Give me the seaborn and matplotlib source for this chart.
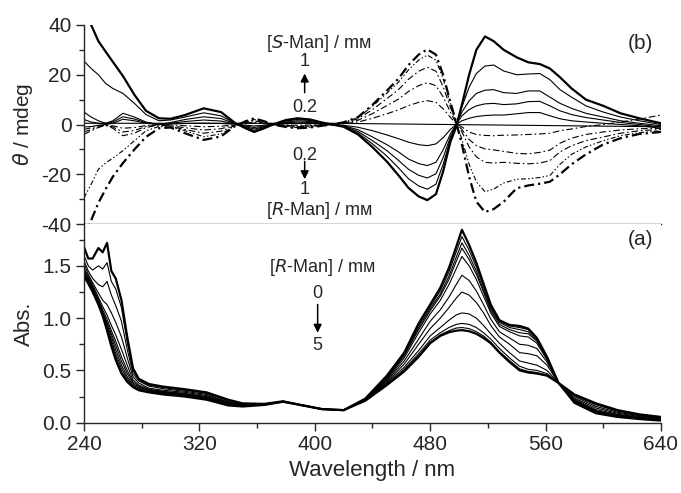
import numpy as np
import seaborn as sns
import matplotlib.pyplot as plt
from matplotlib.ticker import MultipleLocator

# ===================== CD data (panel b) =====================
wl_cd = [240, 245, 250, 255, 260, 267, 275, 283, 292, 300, 310, 323, 335, 345, 352,
         358, 365, 371, 380, 388, 397, 405, 412, 420, 430, 440, 450, 458, 465, 472,
         478, 484, 489, 494, 498, 502, 507, 512, 518, 524, 531, 540, 548, 556, 563,
         570, 578, 588, 600, 612, 625, 640]

cd_S10 = [45, 40, 33.5, 29.3, 25.2, 19.5, 11.9, 5.5, 2.5, 2.3, 3.8, 6.5, 5, 0.5, -1.5,
          -3, -1.5, 0, 1.8, 2.5, 2, 0.8, 0, -0.9, -4, -9.1, -14.9, -20.4, -25.5, -28.9,
          -30.4, -28, -18.8, -7, -1, 8, 20, 30, 35.4, 33.5, 30, 27, 25, 24.3, 22.5,
          19, 14.5, 10, 7.5, 4.5, 2.5, 0.5]
cd_S08 = [25.5, 22.5, 20, 16.5, 14.5, 12.5, 8.5, 4, 1.5, 1.8, 3, 4.7, 3.5, 0.4, -1.2,
          -2.4, -1.2, 0, 1.4, 2, 1.6, 0.6, 0, -0.8, -3.4, -7.8, -12.7, -17.4, -21.8, -24.7,
          -26, -24, -16, -6, 0, 7, 15, 20.5, 23.5, 23.9, 21.5, 20, 20.3, 20.5, 18,
          14, 11, 7.5, 5, 3, 1.5, 0]
cd_S06 = [5, 3, 1.5, 0.5, 1.5, 4.5, 3, 1, 0, 0.8, 2, 3.1, 2.4, 0.3, -0.9,
          -1.8, -0.9, 0, 1, 1.5, 1.2, 0.5, 0, -0.6, -2.8, -6.5, -10.5, -14.4, -18, -20.4,
          -21.5, -19.8, -13.3, -5, 0, 5, 9.5, 12.5, 13.8, 14, 12.8, 12.5, 13.5, 13.5, 11,
          8.5, 6.5, 4.5, 3, 1.5, 0.5, -0.5]
cd_S04 = [2, 1, 0.5, 0.3, 1, 3.1, 2.2, 0.7, 0, 0.5, 1.2, 1.8, 1.4, 0.2, -0.6,
          -1.2, -0.6, 0, 0.7, 1, 0.8, 0.3, 0, -0.5, -2.1, -5, -8.1, -11, -13.9, -15.7,
          -16.5, -15.2, -10.2, -3.8, 0, 3.5, 6, 7.5, 8.3, 8.5, 8, 8.3, 9.2, 9.3, 7.5,
          5.5, 4, 2.8, 1.8, 0.8, 0, -1]
cd_S02 = [-1, -0.8, -0.3, 0, 0.5, 2.1, 1.5, 0.5, 0, 0.2, 0.4, 0.5, 0.4, 0.1, -0.3,
          -0.6, -0.3, 0, 0.3, 0.5, 0.4, 0.2, 0, -0.3, -1.1, -2.5, -4.2, -5.7, -7.1, -8.1,
          -8.5, -7.8, -5.3, -2, 0, 1.5, 2.5, 3.2, 3.6, 3.8, 3.8, 4.3, 4.8, 4.8, 3.5,
          2.3, 1.5, 1, 0.5, 0, -0.5, -1.5]
cd_R10 = [-46, -38.5, -31.5, -26, -21, -15.5, -10, -5, -1.5, -1.2, -3.5, -6.2, -4.8, -0.5, 1.3,
          2.5, 1.3, 0, -1, -1.5, -1.2, -0.5, 0, 0.9, 3, 7.9, 13.6, 18.4, 23.9, 28.1,
          30.2, 28.1, 19.9, 9.1, 0.9, -8, -21, -31, -35.2, -34, -31, -25.6, -24.5, -23.8, -23,
          -20, -16, -12, -8, -5.5, -3.8, -3]
cd_R08 = [-29.5, -24, -18, -15.5, -13.5, -10.5, -6.5, -2.5, -0.8, -1, -2.5, -4.9, -3.8, -0.4, 1,
          2, 1, 0, -0.8, -1.2, -1, -0.4, 0, 0.8, 2.8, 7.3, 12.6, 17, 22, 25.9,
          27.9, 25.9, 18.4, 8.4, 0.8, -6, -16, -23, -27, -26, -23.5, -22, -21.8, -21.3, -20.5,
          -16, -12, -9, -6.5, -4.5, -3.3, -2.5]
cd_R06 = [-3, -2, -1, -0.3, -1.5, -4.5, -3.5, -1.2, -0.2, -0.8, -2, -3.5, -2.7, -0.3, 0.8,
          1.5, 0.8, 0, -0.6, -0.9, -0.7, -0.3, 0, 0.7, 2.3, 6, 10.4, 14, 18.2, 21.4,
          23, 21.4, 15.2, 6.9, 0.7, -3, -9, -13, -15.2, -15.5, -15.2, -15.6, -15.8, -15.5, -14.5,
          -11, -8.5, -6.5, -5, -3.5, -2.5, -2]
cd_R04 = [-4, -2.5, -1.2, -0.3, -1, -3, -2.4, -0.8, -0.1, -0.5, -1.3, -2.2, -1.7, -0.2, 0.5,
          1, 0.5, 0, -0.4, -0.6, -0.5, -0.2, 0, 0.5, 1.7, 4.4, 7.6, 10.2, 13.3, 15.6,
          16.8, 15.6, 11.1, 5, 0.5, -2, -6, -8.5, -9.8, -10.2, -10.8, -11.6, -11.8, -11.2, -10.3,
          -7.5, -5.5, -4, -3, -2.2, -1.7, -1.5]
cd_R02 = [-2, -1.3, -0.6, -0.2, -0.5, -1.5, -1.2, -0.4, 0, -0.2, -0.5, -0.9, -0.7, -0.1, 0.3,
          0.5, 0.3, 0, -0.2, -0.3, -0.2, -0.1, 0, 0.3, 1, 2.5, 4.3, 5.9, 7.6, 8.9,
          9.6, 8.9, 6.3, 2.9, 0.3, -1, -3, -4, -4.4, -4.5, -4.3, -4.2, -4, -3.8, -3.5,
          -2.5, -1.8, -0.8, 0, 1, 2.2, 3.8]
wl_zero = [240, 410, 640]
cd_zero = [0.5, 0.5, -0.9]

# ===================== Absorption data (panel a), [R-Man] 0 -> 5 mM =====================
wl_abs = [240, 243, 246, 250, 253, 256, 259, 262, 266, 270, 274, 278, 285, 295, 310, 325,
          340, 350, 365, 378, 390, 405, 420, 435, 450, 462, 472, 480, 487, 493, 498, 502,
          507, 512, 517, 522, 528, 535, 542, 548, 554, 561, 569, 580, 595, 610, 625, 640]

abs_c0 = [1.40, 1.33, 1.25, 1.13, 1.02, 0.88, 0.73, 0.60, 0.47, 0.39, 0.34, 0.31, 0.29, 0.27, 0.25, 0.22,
          0.165, 0.155, 0.17, 0.20, 0.17, 0.13, 0.12, 0.23, 0.45, 0.67, 0.95, 1.13, 1.29, 1.48, 1.68, 1.845,
          1.70, 1.53, 1.33, 1.13, 0.98, 0.935, 0.925, 0.90, 0.81, 0.63, 0.38, 0.19, 0.09, 0.055, 0.035, 0.02]
abs_c1 = [1.41, 1.34, 1.26, 1.14, 1.03, 0.90, 0.76, 0.63, 0.49, 0.40, 0.345, 0.315, 0.295, 0.275, 0.255, 0.225,
          0.17, 0.16, 0.17, 0.20, 0.17, 0.13, 0.12, 0.228, 0.44, 0.66, 0.93, 1.11, 1.26, 1.44, 1.63, 1.78,
          1.65, 1.49, 1.30, 1.11, 0.97, 0.925, 0.91, 0.89, 0.80, 0.625, 0.38, 0.20, 0.10, 0.06, 0.04, 0.022]
abs_c2 = [1.42, 1.35, 1.27, 1.15, 1.04, 0.92, 0.79, 0.66, 0.52, 0.42, 0.35, 0.32, 0.30, 0.28, 0.26, 0.23,
          0.175, 0.16, 0.17, 0.20, 0.17, 0.13, 0.12, 0.226, 0.43, 0.65, 0.91, 1.09, 1.23, 1.40, 1.58, 1.72,
          1.60, 1.45, 1.27, 1.09, 0.96, 0.91, 0.89, 0.87, 0.79, 0.62, 0.38, 0.205, 0.105, 0.065, 0.043, 0.025]
abs_c3 = [1.43, 1.36, 1.28, 1.16, 1.05, 0.94, 0.82, 0.70, 0.55, 0.44, 0.36, 0.33, 0.305, 0.285, 0.265, 0.235,
          0.18, 0.165, 0.172, 0.20, 0.17, 0.13, 0.12, 0.224, 0.42, 0.64, 0.89, 1.07, 1.21, 1.37, 1.54, 1.67,
          1.56, 1.42, 1.25, 1.07, 0.94, 0.89, 0.86, 0.85, 0.78, 0.61, 0.38, 0.21, 0.11, 0.07, 0.046, 0.028]
abs_c4 = [1.44, 1.37, 1.29, 1.17, 1.06, 0.96, 0.85, 0.74, 0.59, 0.47, 0.375, 0.34, 0.31, 0.29, 0.27, 0.24,
          0.182, 0.165, 0.173, 0.20, 0.17, 0.13, 0.12, 0.222, 0.41, 0.62, 0.86, 1.04, 1.17, 1.32, 1.47, 1.59,
          1.50, 1.37, 1.21, 1.05, 0.92, 0.87, 0.83, 0.82, 0.76, 0.60, 0.38, 0.215, 0.115, 0.075, 0.05, 0.03]
abs_c5 = [1.46, 1.38, 1.30, 1.18, 1.08, 0.99, 0.88, 0.78, 0.63, 0.50, 0.39, 0.35, 0.315, 0.295, 0.275, 0.245,
          0.185, 0.168, 0.175, 0.20, 0.17, 0.13, 0.12, 0.22, 0.40, 0.59, 0.80, 0.97, 1.08, 1.20, 1.32, 1.41,
          1.36, 1.26, 1.13, 0.99, 0.87, 0.81, 0.75, 0.74, 0.71, 0.58, 0.38, 0.225, 0.125, 0.08, 0.055, 0.034]
abs_c6 = [1.48, 1.40, 1.32, 1.20, 1.11, 1.03, 0.93, 0.84, 0.70, 0.55, 0.41, 0.36, 0.32, 0.30, 0.28, 0.25,
          0.19, 0.17, 0.175, 0.201, 0.17, 0.13, 0.12, 0.218, 0.39, 0.56, 0.75, 0.90, 1.00, 1.10, 1.19, 1.25,
          1.22, 1.15, 1.05, 0.93, 0.82, 0.75, 0.67, 0.66, 0.64, 0.55, 0.38, 0.235, 0.14, 0.09, 0.06, 0.038]
abs_c7 = [1.52, 1.42, 1.34, 1.24, 1.17, 1.13, 1.05, 0.96, 0.82, 0.62, 0.44, 0.38, 0.33, 0.31, 0.29, 0.26,
          0.195, 0.17, 0.177, 0.202, 0.17, 0.13, 0.12, 0.216, 0.38, 0.53, 0.69, 0.83, 0.91, 0.98, 1.03, 1.05,
          1.04, 1.00, 0.93, 0.85, 0.76, 0.67, 0.59, 0.57, 0.55, 0.50, 0.38, 0.25, 0.155, 0.10, 0.067, 0.043]
abs_c8 = [1.55, 1.45, 1.38, 1.32, 1.30, 1.35, 1.22, 1.12, 0.97, 0.70, 0.47, 0.40, 0.35, 0.325, 0.30, 0.27,
          0.20, 0.175, 0.178, 0.203, 0.17, 0.13, 0.12, 0.214, 0.37, 0.51, 0.66, 0.79, 0.86, 0.91, 0.94, 0.95,
          0.94, 0.91, 0.86, 0.80, 0.71, 0.62, 0.54, 0.51, 0.50, 0.47, 0.38, 0.26, 0.17, 0.11, 0.073, 0.048]
abs_c9 = [1.60, 1.50, 1.46, 1.50, 1.47, 1.53, 1.35, 1.28, 1.10, 0.77, 0.50, 0.41, 0.36, 0.335, 0.31, 0.28,
          0.21, 0.18, 0.18, 0.204, 0.17, 0.13, 0.12, 0.212, 0.365, 0.50, 0.64, 0.77, 0.84, 0.88, 0.905, 0.91,
          0.90, 0.87, 0.83, 0.77, 0.68, 0.595, 0.515, 0.49, 0.48, 0.455, 0.38, 0.265, 0.18, 0.115, 0.077, 0.052]
abs_c10 = [1.68, 1.57, 1.57, 1.67, 1.63, 1.72, 1.45, 1.38, 1.17, 0.82, 0.52, 0.42, 0.37, 0.345, 0.32, 0.29,
           0.22, 0.185, 0.18, 0.205, 0.17, 0.13, 0.12, 0.21, 0.36, 0.49, 0.63, 0.76, 0.83, 0.865, 0.88, 0.885,
           0.875, 0.85, 0.81, 0.76, 0.67, 0.58, 0.50, 0.48, 0.47, 0.45, 0.38, 0.27, 0.185, 0.12, 0.08, 0.055]

sns.set_style("ticks")
plt.rcParams['font.family'] = ['Liberation Sans', 'DejaVu Sans']
plt.rcParams['axes.unicode_minus'] = False
plt.rcParams['xtick.direction'] = 'out'
plt.rcParams['ytick.direction'] = 'out'

fig = plt.figure(figsize=(6.81, 4.93), dpi=100)
ax_b = fig.add_axes([0.1233, 0.5456, 0.8473, 0.4037])
ax_a = fig.add_axes([0.1233, 0.1426, 0.8473, 0.4030])

thin = 0.8
thick = 1.6
dash_dot = (0, (6, 2.5, 1.5, 2.5))
dash_dot_dot = (0, (4.5, 2, 1.3, 2, 1.3, 2))
long_dash_dot = (0, (4.5, 1.8, 1, 1.8))
arrow = dict(arrowstyle='-|>', color='k', lw=1.1, mutation_scale=12, shrinkA=0, shrinkB=0)

# ===================== Panel (b): CD =====================
sns.lineplot(x=wl_zero, y=cd_zero, ax=ax_b, color='k', lw=thin)
for vals in [cd_S02, cd_S04, cd_S06, cd_S08]:
    sns.lineplot(x=wl_cd, y=vals, ax=ax_b, color='k', lw=thin)
sns.lineplot(x=wl_cd, y=cd_S10, ax=ax_b, color='k', lw=thick)
for vals in [cd_R02, cd_R04, cd_R06]:
    sns.lineplot(x=wl_cd, y=vals, ax=ax_b, color='k', lw=thin, linestyle=dash_dot)
sns.lineplot(x=wl_cd, y=cd_R08, ax=ax_b, color='k', lw=thin, linestyle=dash_dot_dot)
sns.lineplot(x=wl_cd, y=cd_R10, ax=ax_b, color='k', lw=thick, linestyle=long_dash_dot)

ax_b.set_xlim(240, 640)
ax_b.set_ylim(-40, 40)
ax_b.yaxis.set_major_locator(MultipleLocator(20))
ax_b.yaxis.set_minor_locator(MultipleLocator(10))
ax_b.tick_params(axis='x', bottom=False, labelbottom=False)
ax_b.set_ylabel(r'$\theta$ / mdeg', fontsize=15)
ax_b.yaxis.set_label_coords(-0.085, 0.5)
for s in ['top', 'right']:
    ax_b.spines[s].set_visible(False)

ann = 13
ax_b.text(403, 32.6, '[$S$-Man] / mм', ha='center', va='center', fontsize=ann)
ax_b.text(393, 25.4, '1', ha='center', va='center', fontsize=ann)
ax_b.annotate('', xy=(393, 20.5), xytext=(393, 12.8), arrowprops=arrow)
ax_b.text(393, 7.0, '0.2', ha='center', va='center', fontsize=ann)
ax_b.text(393, -12.3, '0.2', ha='center', va='center', fontsize=ann)
ax_b.annotate('', xy=(393, -22.0), xytext=(393, -14.8), arrowprops=arrow)
ax_b.text(393, -26.0, '1', ha='center', va='center', fontsize=ann)
ax_b.text(403, -34.4, '[$R$-Man] / mм', ha='center', va='center', fontsize=ann)
ax_b.text(626, 32.6, '(b)', ha='center', va='center', fontsize=15)

# ===================== Panel (a): absorption =====================
abs_curves = [abs_c0, abs_c1, abs_c2, abs_c3, abs_c4, abs_c5,
              abs_c6, abs_c7, abs_c8, abs_c9, abs_c10]
for i, vals in enumerate(abs_curves):
    lw = thick if i in (0, len(abs_curves) - 1) else thin
    sns.lineplot(x=wl_abs, y=vals, ax=ax_a, color='k', lw=lw)

ax_a.set_xlim(240, 640)
ax_a.set_ylim(0, 1.9)
ax_a.xaxis.set_major_locator(MultipleLocator(80))
ax_a.xaxis.set_minor_locator(MultipleLocator(40))
ax_a.yaxis.set_major_locator(MultipleLocator(0.5))
ax_a.yaxis.set_minor_locator(MultipleLocator(0.25))
ax_a.yaxis.set_major_formatter(plt.FormatStrFormatter('%.1f'))
ax_a.set_xlabel('Wavelength / nm', fontsize=16)
ax_a.set_ylabel('Abs.', fontsize=16)
ax_a.yaxis.set_label_coords(-0.085, 0.5)
for s in ['top', 'right']:
    ax_a.spines[s].set_visible(False)

ax_a.text(405, 1.48, '[$R$-Man] / mм', ha='center', va='center', fontsize=ann)
ax_a.text(402, 1.24, '0', ha='center', va='center', fontsize=ann)
ax_a.annotate('', xy=(402, 0.86), xytext=(402, 1.13), arrowprops=arrow)
ax_a.text(402, 0.74, '5', ha='center', va='center', fontsize=ann)
ax_a.text(626, 1.75, '(a)', ha='center', va='center', fontsize=15)

for ax in (ax_a, ax_b):
    ax.tick_params(which='major', length=6, width=1.0, labelsize=15, pad=3)
    ax.tick_params(which='minor', length=3.5, width=1.0)
    for s in ['left', 'bottom']:
        ax.spines[s].set_linewidth(1.0)

fig.savefig('out.png', dpi=100)
